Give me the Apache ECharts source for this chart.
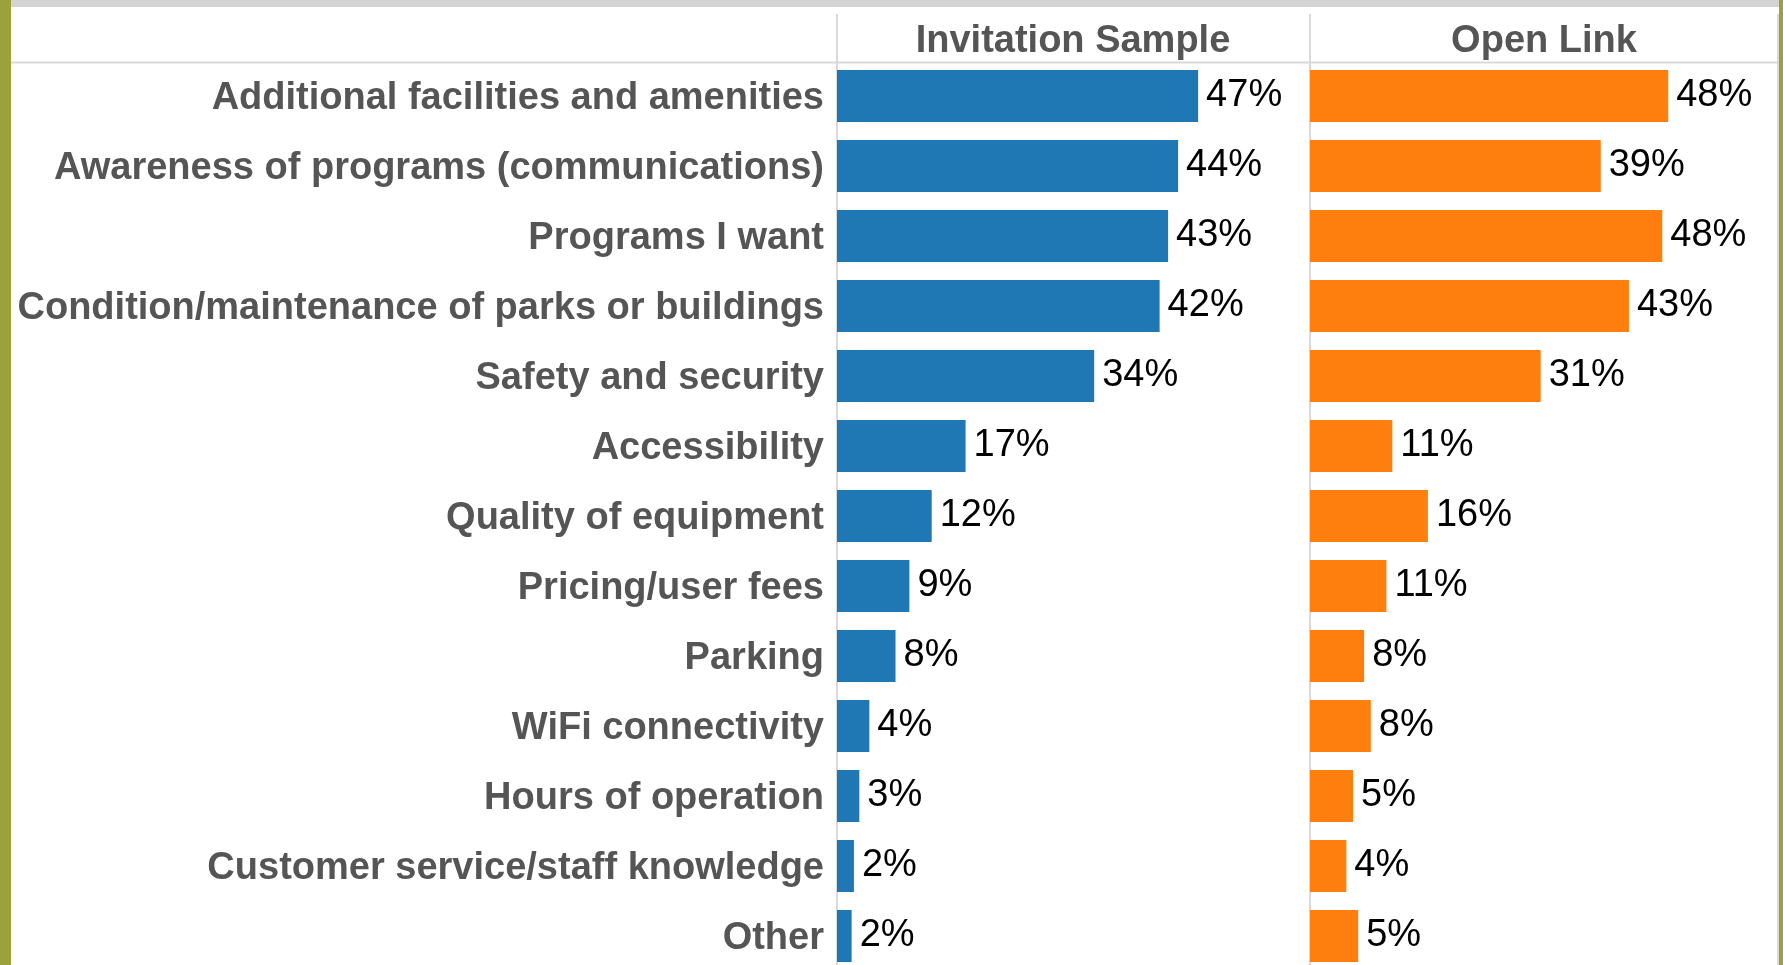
<!DOCTYPE html>
<html>
<head>
<meta charset="utf-8">
<title>Improvements by sample</title>
<script src="https://cdn.jsdelivr.net/npm/echarts@6/dist/echarts.min.js"></script>
<style>
  html, body { margin: 0; padding: 0; background: #fff; }
  #chart { width: 1783px; height: 965px; }
</style>
</head>
<body>
<div id="chart"></div>
<script>
// categories, top to bottom
const categories = [
  'Additional facilities and amenities',
  'Awareness of programs (communications)',
  'Programs I want',
  'Condition/maintenance of parks or buildings',
  'Safety and security',
  'Accessibility',
  'Quality of equipment',
  'Pricing/user fees',
  'Parking',
  'WiFi connectivity',
  'Hours of operation',
  'Customer service/staff knowledge',
  'Other'
]

const panelTitles = ['Invitation Sample', 'Open Link']

// bar lengths (percent)
const invitationValues = [46.9, 44.3, 43.0, 41.9, 33.4, 16.7, 12.3, 9.4, 7.6, 4.2, 2.9, 2.2, 1.9]
const openLinkValues = [48.3, 39.2, 47.5, 43.0, 31.1, 11.1, 15.9, 10.3, 7.3, 8.2, 5.8, 4.9, 6.5]

// percentages as printed next to the bars
const invitationShown = [47, 44, 43, 42, 34, 17, 12, 9, 8, 4, 3, 2, 2]
const openLinkShown = [48, 39, 48, 43, 31, 11, 16, 11, 8, 8, 5, 4, 5]

const FONT = '"Liberation Sans", Arial, sans-serif'
const LINE = '#d9d9d9'

const chart = echarts.init(document.getElementById('chart'), null, { renderer: 'canvas' })

// common pieces for the two panes
const paneX = (i, max) => ({
  type: 'value',
  gridIndex: i,
  min: 0,
  max: max,
  position: 'top',
  axisLine: { show: false },
  axisTick: { show: false },
  axisLabel: { show: false },
  splitLine: { show: false },
  name: panelTitles[i],
  nameLocation: 'middle',
  nameGap: 19.5,
  nameTextStyle: {
    fontFamily: FONT,
    fontSize: 38,
    fontWeight: 'bold',
    color: '#555',
    verticalAlign: 'middle'
  }
})

const paneY = (i, showLabels) => ({
  type: 'category',
  gridIndex: i,
  data: categories,
  inverse: true,
  axisTick: { show: false },
  axisLine: { show: true, lineStyle: { color: LINE, width: 2 } },
  axisLabel: {
    show: showLabels,
    margin: 13,
    // row labels sit a touch lower than the bar centres
    formatter: v => '{row|' + v + '}',
    rich: {
      row: {
        padding: [6, 0, 0, 0],
        fontFamily: FONT,
        fontSize: 38,
        fontWeight: 'bold',
        color: '#555'
      }
    }
  }
})

const paneBar = (i, values, shown, color) => ({
  type: 'bar',
  xAxisIndex: i,
  yAxisIndex: i,
  data: values,
  barWidth: 52,
  itemStyle: { color: color },
  label: {
    show: true,
    position: 'right',
    distance: 8,
    formatter: p => shown[p.dataIndex] + '%',
    fontFamily: FONT,
    fontSize: 38,
    color: '#000'
  }
})

const option = {
  backgroundColor: '#fff',
  animation: false,
  // rows run a little past the bottom edge, as in the original crop
  grid: [
    { left: 837, top: 61, width: 472, height: 910, outerBoundsMode: 'none', containLabel: false },
    { left: 1310, top: 61, width: 468, height: 910, outerBoundsMode: 'none', containLabel: false }
  ],
  xAxis: [paneX(0, 61.3), paneX(1, 63.1)],
  yAxis: [paneY(0, true), paneY(1, false)],
  series: [
    paneBar(0, invitationValues, invitationShown, '#1f77b4'),
    paneBar(1, openLinkValues, openLinkShown, '#ff7f0e')
  ],
  // frame around the table: olive edges, grey top strip, header rule and column lines
  graphic: [
    { type: 'rect', shape: { x: 0, y: 0, width: 11, height: 965 }, style: { fill: '#9ba23b' }, silent: true },
    { type: 'rect', shape: { x: 1779, y: 0, width: 4, height: 965 }, style: { fill: '#9ba23b' }, silent: true },
    { type: 'rect', shape: { x: 11, y: 0, width: 1768, height: 7 }, style: { fill: '#d4d4d4' }, silent: true },
    { type: 'line', shape: { x1: 11, y1: 62.5, x2: 1778, y2: 62.5 }, style: { stroke: LINE, lineWidth: 2 }, silent: true },
    { type: 'line', shape: { x1: 837, y1: 14, x2: 837, y2: 62 }, style: { stroke: LINE, lineWidth: 2 }, silent: true },
    { type: 'line', shape: { x1: 1310, y1: 14, x2: 1310, y2: 62 }, style: { stroke: LINE, lineWidth: 2 }, silent: true },
    { type: 'line', shape: { x1: 1778, y1: 14, x2: 1778, y2: 965 }, style: { stroke: LINE, lineWidth: 2 }, silent: true }
  ]
}

chart.setOption(option)
</script>
</body>
</html>
